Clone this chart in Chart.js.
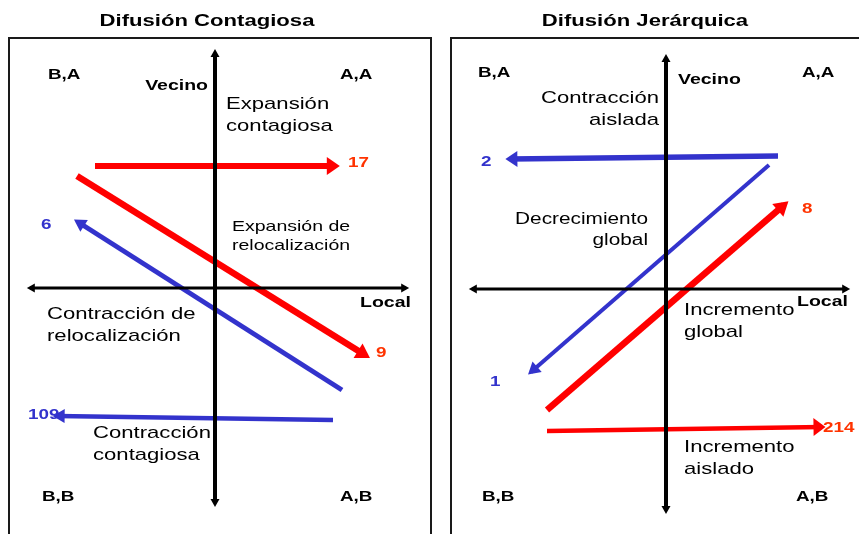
<!DOCTYPE html>
<html>
<head>
<meta charset="utf-8">
<script src="https://cdn.jsdelivr.net/npm/chart.js@4.4.1/dist/chart.umd.min.js"></script>
<style>
  body { margin: 0; background: #fff; }
  #wrap { position: relative; width: 859px; height: 534px; overflow: hidden; }
  canvas { position: absolute; top: 0; }
</style>
</head>
<body>
<div id="wrap">
  <canvas id="contagiosa" width="440" height="534" style="left:0"></canvas>
  <canvas id="jerarquica" width="419" height="534" style="left:440px"></canvas>
</div>
<script>
// --- data ------------------------------------------------------------------
// units: the origin is where the Local / Vecino axes cross

var quadrantLabels = ['B,A', 'A,A', 'B,B', 'A,B'];
var axisLabels = ['Local', 'Vecino'];

// Difusión Contagiosa
var contTitle = 'Difusión Contagiosa';
var contCounts = [17, 9, 6, 109];
var contKind = ['exp', 'exp', 'con', 'con'];
var contFrom = [[-6.0, 6.1], [-6.9, 5.6], [6.35, -5.1], [5.9, -6.6]];
var contTo = [[6.0, 6.1], [7.5, -3.35], [-6.85, 3.3], [-7.9, -6.4]];
var contAxisX = [[-9.25, 0], [9.55, 0]];
var contAxisY = [[0, -10.75], [0, 11.75]];
var contRegions = ['Expansión\ncontagiosa', 'Expansión de\nrelocalización',
                   'Contracción de\nrelocalización', 'Contracción\ncontagiosa'];

// Difusión Jerárquica
var jerTitle = 'Difusión Jerárquica';
var jerCounts = [2, 1, 8, 214];
var jerKind = ['con', 'con', 'exp', 'exp'];
var jerFrom = [[5.6, 6.65], [5.15, 6.2], [-5.95, -6.05], [-5.95, -7.1]];
var jerTo = [[-7.8, 6.5], [-6.75, -4.15], [5.9, 4.2], [7.8, -6.9]];
var jerAxisX = [[-9.7, 0], [9.05, 0]];
var jerAxisY = [[0, -11.05], [0, 11.55]];
var jerRegions = ['Contracción\naislada', 'Decrecimiento\nglobal',
                  'Incremento\nglobal', 'Incremento\naislado'];

// --- look ------------------------------------------------------------------
var STRETCH = 1.3;   // the original text is wide, like a stretched slide
var FONT = 'Arial, "Liberation Sans", sans-serif';
var colors = { exp: '#ff0000', con: '#3333cc' };
var countColors = { exp: '#ff3300', con: '#3333cc' };

function drawText(ctx, txt, px, py, size, bold, color, align) {
  ctx.save();
  ctx.font = (bold ? 'bold ' : '') + size + 'px ' + FONT;
  ctx.fillStyle = color;
  ctx.textBaseline = 'middle';
  ctx.textAlign = 'left';
  var w = ctx.measureText(txt).width * STRETCH;
  var left = px;
  if (align === 'right') left = px - w;
  if (align === 'center') left = px - w / 2;
  ctx.translate(left, py);
  ctx.scale(STRETCH, 1);
  ctx.fillText(txt, 0, 0);
  ctx.restore();
}

function head(ctx, a, b, ds, h) {
  var dx = b.x - a.x, dy = b.y - a.y;
  var d = Math.sqrt(dx * dx + dy * dy);
  var ux = dx / d, uy = dy / d;
  var off = ds.borderWidth / 2 * h.len / h.half + 0.5;
  var tx = b.x + ux * off, ty = b.y + uy * off;
  var bx = tx - ux * h.len, by = ty - uy * h.len;
  ctx.beginPath();
  ctx.moveTo(tx, ty);
  ctx.lineTo(bx - uy * h.half, by + ux * h.half);
  ctx.lineTo(bx + uy * h.half, by - ux * h.half);
  ctx.closePath();
  ctx.fillStyle = ds.borderColor;
  ctx.fill();
}

var arrowHeads = {
  id: 'arrowHeads',
  afterDatasetsDraw: function (chart) {
    var ctx = chart.ctx;
    chart.data.datasets.forEach(function (ds, i) {
      if (!ds.head) return;
      var pts = chart.getDatasetMeta(i).data;
      var a = pts[0], b = pts[pts.length - 1];
      head(ctx, a, b, ds, ds.head);
      if (ds.head.both) head(ctx, b, a, ds, ds.head);
    });
  }
};

var panelDecor = {
  id: 'panelDecor',
  beforeDatasetsDraw: function (chart, args, opts) {
    var ctx = chart.ctx, ca = chart.chartArea;
    ctx.save();
    ctx.strokeStyle = '#1a1a1a';
    ctx.lineWidth = 2;
    ctx.strokeRect(ca.left, ca.top, ca.right - ca.left + opts.extraRight, ca.bottom - ca.top + 10);
    ctx.restore();
  },
  afterDraw: function (chart, args, opts) {
    var ctx = chart.ctx;
    var sx = chart.scales.x, sy = chart.scales.y;
    function X(v) { return sx.getPixelForValue(v); }
    function Y(v) { return sy.getPixelForValue(v); }

    drawText(ctx, opts.title, opts.titleX, 21, 17, true, '#000', 'center');

    quadrantLabels.forEach(function (t, i) {
      var p = opts.quadPos[i];
      drawText(ctx, t, X(p[0]), Y(p[1]), 14.5, true, '#000', 'left');
    });
    axisLabels.forEach(function (t, i) {
      var p = opts.axisPos[i];
      drawText(ctx, t, X(p[0]), Y(p[1]), 15, true, '#000', p[2]);
    });
    opts.regions.forEach(function (t, i) {
      var p = opts.regionPos[i];
      t.split('\n').forEach(function (line, k) {
        drawText(ctx, line, X(p[0]), Y(p[1]) + k * p[4], p[3], false, '#000', p[2]);
      });
    });
    opts.counts.forEach(function (v, i) {
      var p = opts.countPos[i];
      drawText(ctx, String(v), X(p[0]), Y(p[1]), 14.5, true, countColors[opts.kind[i]], 'left');
    });
  }
};

function pt(p) { return { x: p[0], y: p[1] }; }

function buildDatasets(axisX, axisY, from, to, kind, widths, heads) {
  var axisHead = { len: 8, half: 4.5, both: true };
  var sets = [
    { data: axisX.map(pt), borderColor: '#000', borderWidth: 3, head: axisHead },
    { data: axisY.map(pt), borderColor: '#000', borderWidth: 4, head: axisHead }
  ];
  from.forEach(function (f, i) {
    sets.push({
      data: [pt(f), pt(to[i])],
      borderColor: colors[kind[i]],
      borderWidth: widths[i],
      head: heads[i]
    });
  });
  sets.forEach(function (s) {
    s.showLine = true;
    s.pointRadius = 0;
    s.borderCapStyle = 'butt';
    s.fill = false;
  });
  return sets;
}

function buildPanel(id, datasets, ranges, padding, decor) {
  var ctxP = document.getElementById(id).getContext('2d');
  new Chart(ctxP, {
    type: 'scatter',
    data: { datasets: datasets },
    options: {
      responsive: false,
      animation: false,
      events: [],
      layout: { padding: padding },
      scales: {
        x: { type: 'linear', min: ranges[0], max: ranges[1], display: false },
        y: { type: 'linear', min: ranges[2], max: ranges[3], display: false }
      },
      plugins: {
        legend: { display: false },
        tooltip: { enabled: false },
        panelDecor: decor
      }
    },
    plugins: [arrowHeads, panelDecor]
  });
}

buildPanel('contagiosa',
  buildDatasets(contAxisX, contAxisY, contFrom, contTo, contKind,
    [6, 6.5, 5, 4.5],
    [{ len: 13, half: 9 }, { len: 14, half: 8.5 }, { len: 12, half: 7 }, { len: 12, half: 7 }]),
  [-10.3, 10.8, -12.3, 12.5],
  { left: 9, right: 9, top: 38, bottom: 0 },
  {
    title: contTitle, titleX: 207, extraRight: 0,
    kind: contKind, counts: contCounts, regions: contRegions,
    quadPos: [[-8.35, 10.65], [6.25, 10.65], [-8.65, -10.45], [6.25, -10.45]],
    axisPos: [[7.25, -0.75, 'left'], [-0.35, 10.1, 'right']],
    regionPos: [[0.55, 9.2, 'left', 17, 22], [0.85, 3.05, 'left', 15, 19],
                [-8.4, -1.3, 'left', 17, 22], [-6.1, -7.25, 'left', 17, 22]],
    countPos: [[6.65, 6.25], [8.05, -3.25], [-8.7, 3.15], [-9.35, -6.35]]
  });

buildPanel('jerarquica',
  buildDatasets(jerAxisX, jerAxisY, jerFrom, jerTo, jerKind,
    [5.5, 4, 6.5, 4.5],
    [{ len: 12, half: 8 }, { len: 12, half: 7 }, { len: 14, half: 8.5 }, { len: 12, half: 9 }]),
  [-10.75, 9.65, -12.25, 12.55],
  { left: 11, right: 0, top: 38, bottom: 0 },
  {
    title: jerTitle, titleX: 205, extraRight: 6,
    kind: jerKind, counts: jerCounts, regions: jerRegions,
    quadPos: [[-9.4, 10.8], [6.8, 10.8], [-9.2, -10.4], [6.5, -10.4]],
    axisPos: [[6.55, -0.65, 'left'], [0.6, 10.45, 'left']],
    regionPos: [[-0.35, 9.55, 'right', 17, 22], [-0.9, 3.45, 'right', 16, 21],
                [0.9, -1.05, 'left', 17, 22], [0.9, -7.9, 'left', 17, 22]],
    countPos: [[-9.25, 6.35], [-8.8, -4.65], [6.8, 4.0], [7.85, -6.95]]
  });
</script>
</body>
</html>
